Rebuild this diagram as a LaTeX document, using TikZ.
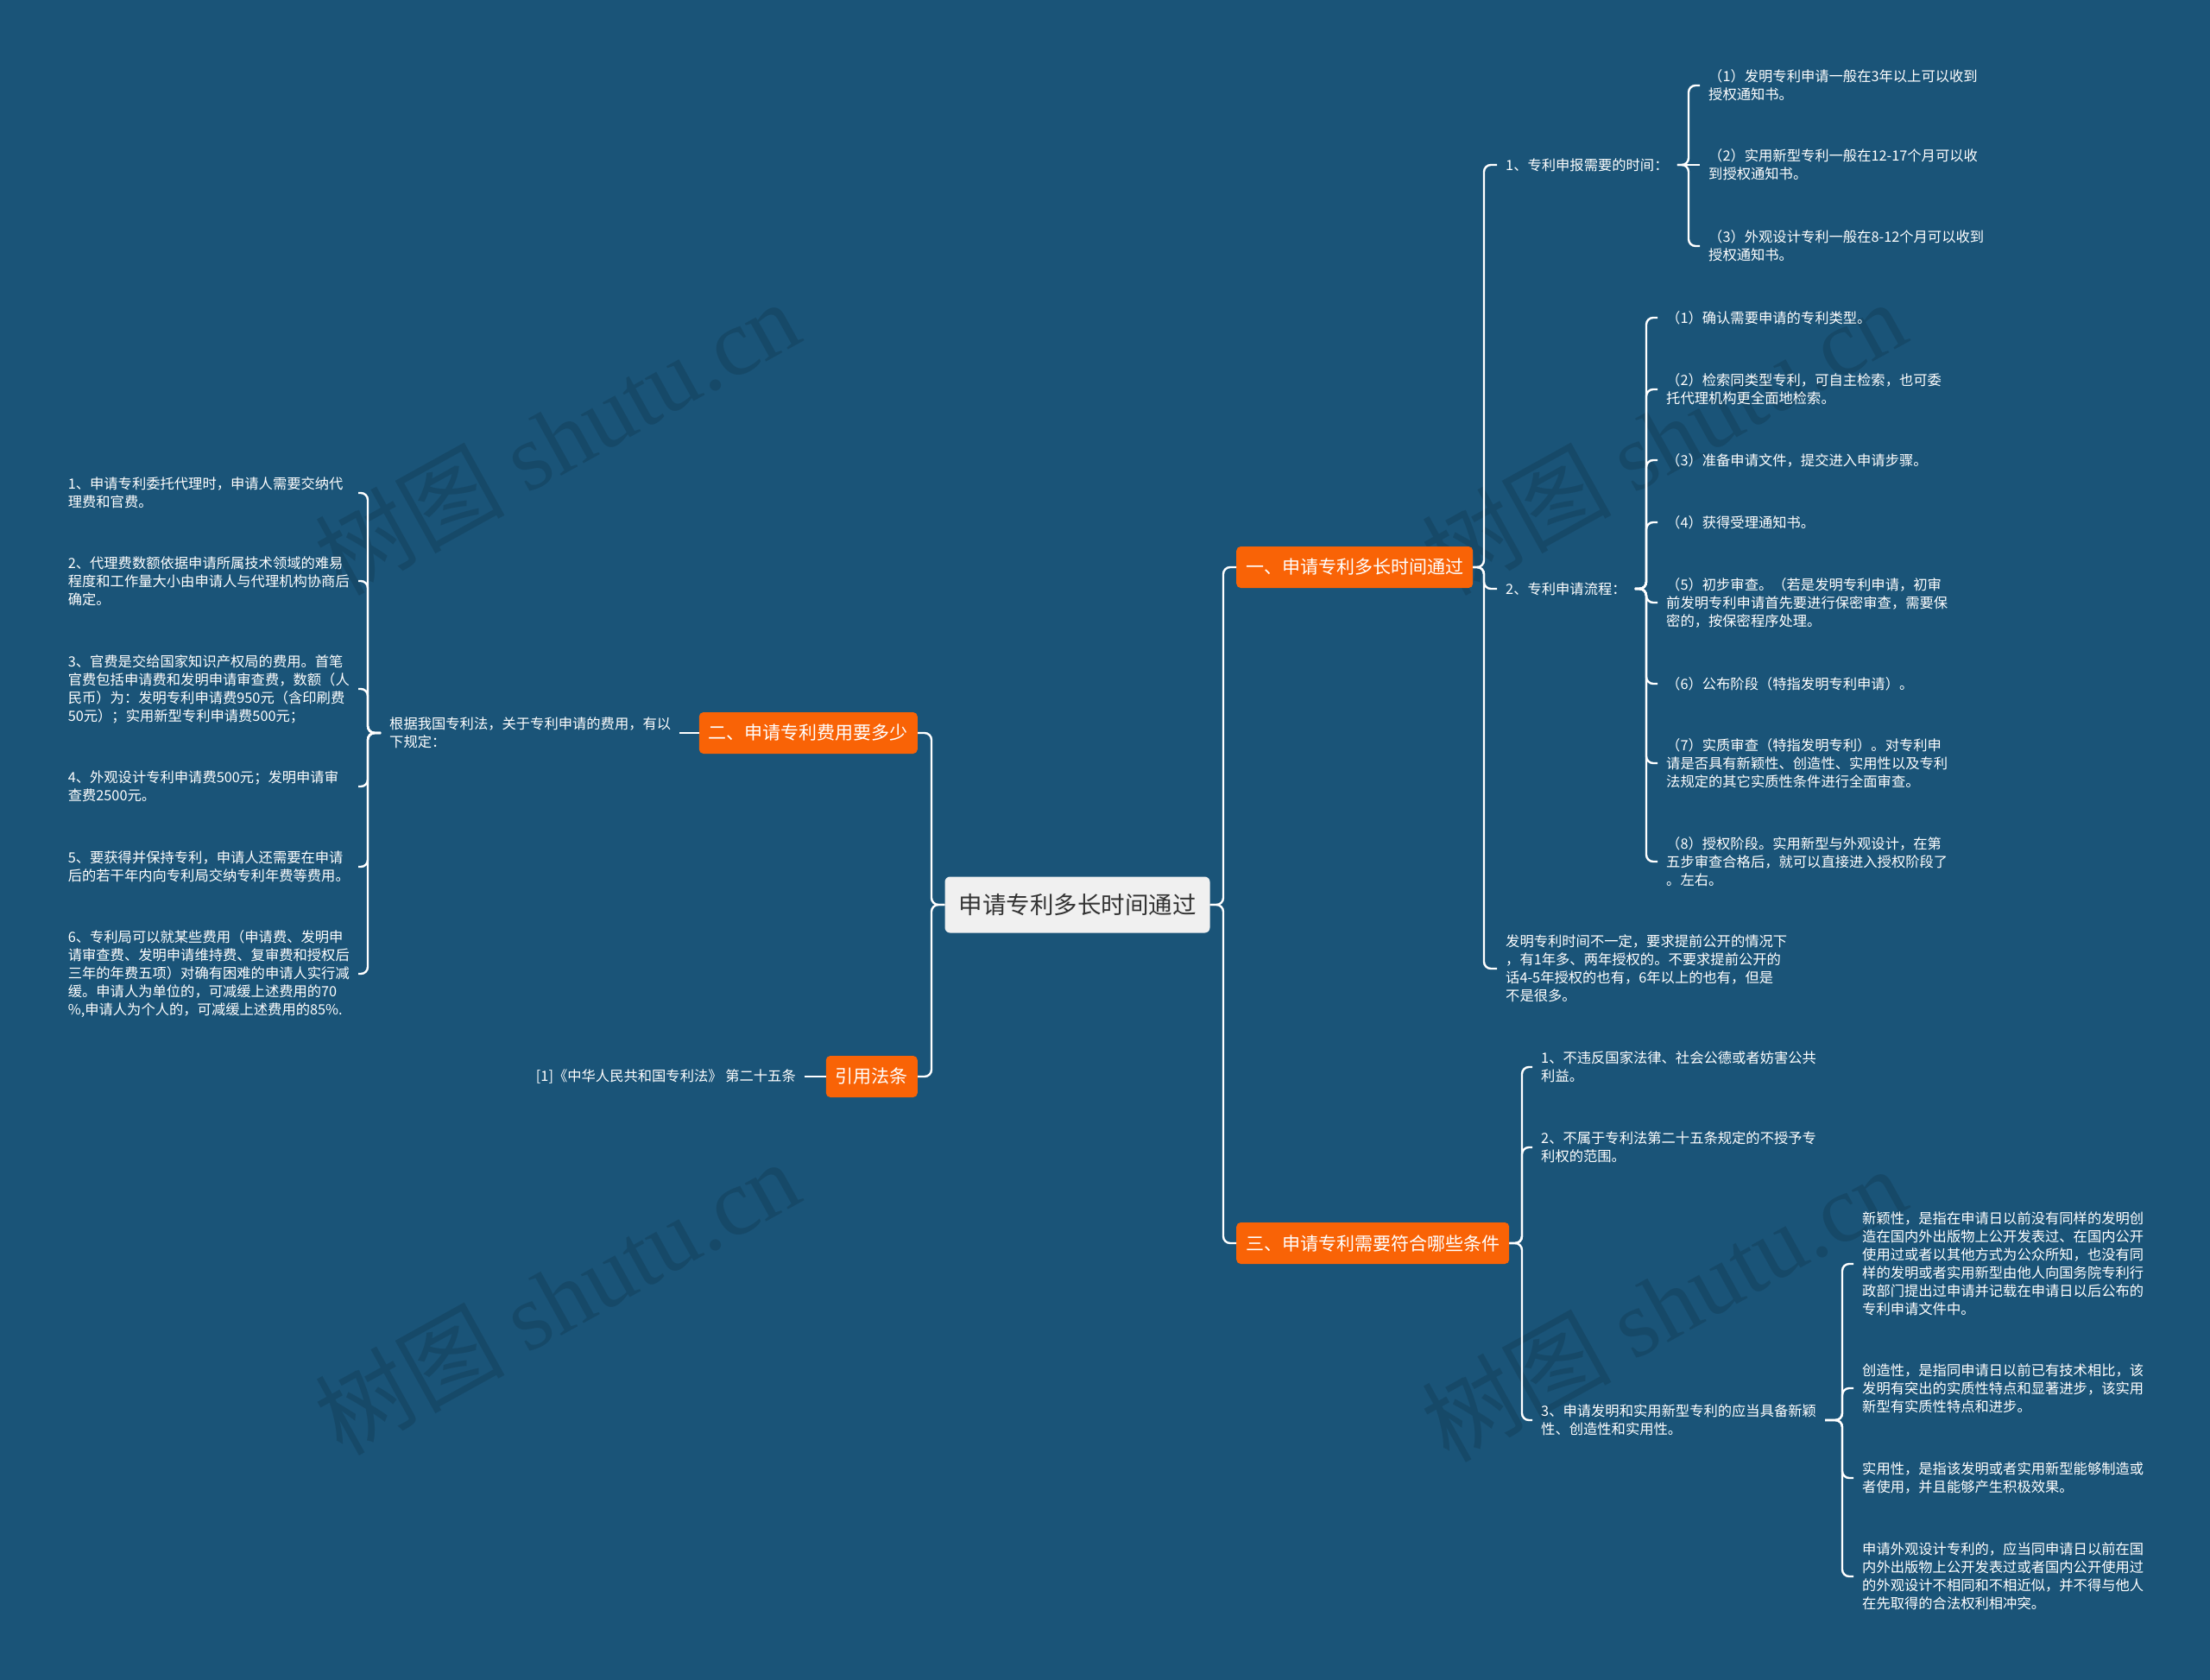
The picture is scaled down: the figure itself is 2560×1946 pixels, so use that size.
\documentclass[tikz,border=0pt]{standalone}
\usepackage{fontspec}
\setmainfont{Noto Sans CJK SC}
\newfontfamily\wmlatin{Liberation Serif}
\usetikzlibrary{positioning}
\definecolor{bgblue}{HTML}{1A5478}
\definecolor{topicorange}{HTML}{F96306}
\definecolor{rootfill}{HTML}{F0F0F0}
\definecolor{roottext}{HTML}{333333}

\begin{document}
\begin{tikzpicture}[
  x=1pt, y=-1pt,
  root/.style={rectangle, rounded corners=6pt, fill=rootfill, text=roottext, font=\fontsize{27.5}{32}\selectfont, minimum height=65pt, inner xsep=16pt},
  topic/.style={rectangle, rounded corners=5pt, fill=topicorange, text=white, font=\fontsize{21}{25}\selectfont, minimum height=48pt, inner xsep=11pt},
  leaf/.style={align=left, text=white, font=\fontsize{16.3}{21}\selectfont, inner xsep=10pt, inner ysep=3pt},
  lleaf/.style={leaf, text width=326pt, anchor=east},
  rleaf/.style={leaf, anchor=west},
  link/.style={draw=white, line width=2.4pt, rounded corners=8pt},
  wmark/.style={rotate=29, text=black, opacity=0.13, font=\fontsize{110}{115}\selectfont}
]
  % Background
  \useasboundingbox (0,0) rectangle (2560,1946);
  \fill[bgblue] (0,0) rectangle (2560,1946);

  % Watermarks
  \node[wmark] (wm1) at (645,506) {树图 {\wmlatin shutu.cn}};
  \node[wmark] (wm2) at (1927,506) {树图 {\wmlatin shutu.cn}};
  \node[wmark] (wm3) at (645,1502) {树图 {\wmlatin shutu.cn}};
  \node[wmark] (wm4) at (1927,1510) {树图 {\wmlatin shutu.cn}};

  % Bus lines
  \coordinate (busl) at (1079,0);
  \coordinate (busr) at (1417,0);
  \coordinate (busfee) at (426,0);
  \coordinate (busdur) at (1719,0);
  \coordinate (bustime) at (1956,0);
  \coordinate (busproc) at (1907,0);
  \coordinate (buscond) at (1763,0);
  \coordinate (busnov) at (2134,0);

  % Root and topics
  \node[root] (root) at (1248,1048) {申请专利多长时间通过};
  \node[topic, anchor=west] (duration) at (1432,657) {一、申请专利多长时间通过};
  \node[topic, anchor=west] (cond) at (1432,1440) {三、申请专利需要符合哪些条件};
  \node[topic, anchor=east] (cost) at (1063,849) {二、申请专利费用要多少};
  \node[topic, anchor=east] (lawref) at (1063,1247) {引用法条};

  % Costs
  \node[rleaf] (feebasis) at (441,849) {根据我国专利法，关于专利申请的费用，有以\\下规定：};
  \node[lleaf] (fee1) at (415,571) {1、申请专利委托代理时，申请人需要交纳代\\理费和官费。};
  \node[lleaf] (fee2) at (415,673) {2、代理费数额依据申请所属技术领域的难易\\程度和工作量大小由申请人与代理机构协商后\\确定。};
  \node[lleaf] (fee3) at (415,798) {3、官费是交给国家知识产权局的费用。首笔\\官费包括申请费和发明申请审查费，数额（人\\民币）为：发明专利申请费950元（含印刷费\\50元）；实用新型专利申请费500元；};
  \node[lleaf] (fee4) at (415,911) {4、外观设计专利申请费500元；发明申请审\\查费2500元。};
  \node[lleaf] (fee5) at (415,1004) {5、要获得并保持专利，申请人还需要在申请\\后的若干年内向专利局交纳专利年费等费用。};
  \node[lleaf] (fee6) at (415,1128) {6、专利局可以就某些费用（申请费、发明申\\请审查费、发明申请维持费、复审费和授权后\\三年的年费五项）对确有困难的申请人实行减\\缓。申请人为单位的，可减缓上述费用的70\\\%,申请人为个人的，可减缓上述费用的85\%.};

  % Law reference
  \node[leaf, anchor=east] (lawtext) at (932,1247) {[1]《中华人民共和国专利法》 第二十五条};

  % Duration
  \node[rleaf] (timereq) at (1734,191) {1、专利申报需要的时间：};
  \node[rleaf] (tr1) at (1969,99) {（1）发明专利申请一般在3年以上可以收到\\授权通知书。};
  \node[rleaf] (tr2) at (1969,191) {（2）实用新型专利一般在12-17个月可以收\\到授权通知书。};
  \node[rleaf] (tr3) at (1969,285) {（3）外观设计专利一般在8-12个月可以收到\\授权通知书。};
  \node[rleaf] (proc) at (1734,682) {2、专利申请流程：};
  \node[rleaf] (pr1) at (1920,368) {（1）确认需要申请的专利类型。};
  \node[rleaf] (pr2) at (1920,451) {（2）检索同类型专利，可自主检索，也可委\\托代理机构更全面地检索。};
  \node[rleaf] (pr3) at (1920,533) {（3）准备申请文件，提交进入申请步骤。};
  \node[rleaf] (pr4) at (1920,605) {（4）获得受理通知书。};
  \node[rleaf] (pr5) at (1920,698) {（5）初步审查。（若是发明专利申请，初审\\前发明专利申请首先要进行保密审查，需要保\\密的，按保密程序处理。};
  \node[rleaf] (pr6) at (1920,792) {（6）公布阶段（特指发明专利申请）。};
  \node[rleaf] (pr7) at (1920,884) {（7）实质审查（特指发明专利）。对专利申\\请是否具有新颖性、创造性、实用性以及专利\\法规定的其它实质性条件进行全面审查。};
  \node[rleaf] (pr8) at (1920,998) {（8）授权阶段。实用新型与外观设计，在第\\五步审查合格后，就可以直接进入授权阶段了\\。左右。};
  \node[rleaf] (note) at (1734,1122) {发明专利时间不一定，要求提前公开的情况下\\，有1年多、两年授权的。不要求提前公开的\\话4-5年授权的也有，6年以上的也有，但是\\不是很多。};

  % Conditions
  \node[rleaf] (cond1) at (1775,1236) {1、不违反国家法律、社会公德或者妨害公共\\利益。};
  \node[rleaf] (cond2) at (1775,1329) {2、不属于专利法第二十五条规定的不授予专\\利权的范围。};
  \node[rleaf] (cond3) at (1775,1645) {3、申请发明和实用新型专利的应当具备新颖\\性、创造性和实用性。};
  \node[rleaf] (nov) at (2147,1464) {新颖性，是指在申请日以前没有同样的发明创\\造在国内外出版物上公开发表过、在国内公开\\使用过或者以其他方式为公众所知，也没有同\\样的发明或者实用新型由他人向国务院专利行\\政部门提出过申请并记载在申请日以后公布的\\专利申请文件中。};
  \node[rleaf] (cre) at (2147,1608) {创造性，是指同申请日以前已有技术相比，该\\发明有突出的实质性特点和显著进步，该实用\\新型有实质性特点和进步。};
  \node[rleaf] (pra) at (2147,1712) {实用性，是指该发明或者实用新型能够制造或\\者使用，并且能够产生积极效果。};
  \node[rleaf] (des) at (2147,1826) {申请外观设计专利的，应当同申请日以前在国\\内外出版物上公开发表过或者国内公开使用过\\的外观设计不相同和不相近似，并不得与他人\\在先取得的合法权利相冲突。};

  % Links from root
  \draw[link] (root.west) -- (root.west -| busl) |- (cost.east);
  \draw[link] (root.west) -- (root.west -| busl) |- (lawref.east);
  \draw[link] (root.east) -- (root.east -| busr) |- (duration.west);
  \draw[link] (root.east) -- (root.east -| busr) |- (cond.west);

  % Links on the left
  \draw[link] (cost.west) -- (feebasis.east);
  \draw[link] (lawref.west) -- (lawtext.east);
  \draw[link] (feebasis.west) -- (feebasis.west -| busfee) |- (fee1.east);
  \draw[link] (feebasis.west) -- (feebasis.west -| busfee) |- (fee2.east);
  \draw[link] (feebasis.west) -- (feebasis.west -| busfee) |- (fee3.east);
  \draw[link] (feebasis.west) -- (feebasis.west -| busfee) |- (fee4.east);
  \draw[link] (feebasis.west) -- (feebasis.west -| busfee) |- (fee5.east);
  \draw[link] (feebasis.west) -- (feebasis.west -| busfee) |- (fee6.east);

  % Links for duration
  \draw[link] (duration.east) -- (duration.east -| busdur) |- (timereq.west);
  \draw[link] (duration.east) -- (duration.east -| busdur) |- (proc.west);
  \draw[link] (duration.east) -- (duration.east -| busdur) |- (note.west);
  \draw[link] (timereq.east) -- (timereq.east -| bustime) |- (tr1.west);
  \draw[link] (timereq.east) -- (tr2.west);
  \draw[link] (timereq.east) -- (timereq.east -| bustime) |- (tr3.west);
  \draw[link] (proc.east) -- (proc.east -| busproc) |- (pr1.west);
  \draw[link] (proc.east) -- (proc.east -| busproc) |- (pr2.west);
  \draw[link] (proc.east) -- (proc.east -| busproc) |- (pr3.west);
  \draw[link] (proc.east) -- (proc.east -| busproc) |- (pr4.west);
  \draw[link] (proc.east) -- (proc.east -| busproc) |- (pr5.west);
  \draw[link] (proc.east) -- (proc.east -| busproc) |- (pr6.west);
  \draw[link] (proc.east) -- (proc.east -| busproc) |- (pr7.west);
  \draw[link] (proc.east) -- (proc.east -| busproc) |- (pr8.west);

  % Links for conditions
  \draw[link] (cond.east) -- (cond.east -| buscond) |- (cond1.west);
  \draw[link] (cond.east) -- (cond.east -| buscond) |- (cond2.west);
  \draw[link] (cond.east) -- (cond.east -| buscond) |- (cond3.west);
  \draw[link] (cond3.east) -- (cond3.east -| busnov) |- (nov.west);
  \draw[link] (cond3.east) -- (cond3.east -| busnov) |- (cre.west);
  \draw[link] (cond3.east) -- (cond3.east -| busnov) |- (pra.west);
  \draw[link] (cond3.east) -- (cond3.east -| busnov) |- (des.west);
\end{tikzpicture}
\end{document}
